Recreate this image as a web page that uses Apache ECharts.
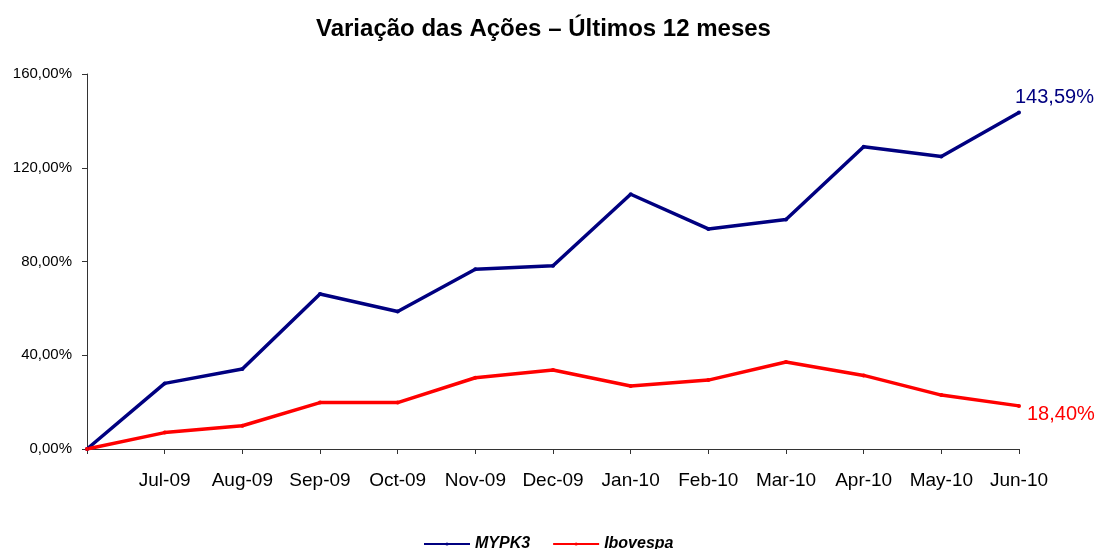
<!DOCTYPE html>
<html>
<head>
<meta charset="utf-8">
<script src="https://cdn.jsdelivr.net/npm/echarts@6/dist/echarts.min.js"></script>
<style>
  html, body { margin: 0; padding: 0; background: #fff; }
  #chart { width: 1102px; height: 549px; }
</style>
</head>
<body>
<div id="chart"></div>
<script>
// dados (variação acumulada em %)
const categories = ['', 'Jul-09', 'Aug-09', 'Sep-09', 'Oct-09', 'Nov-09', 'Dec-09',
  'Jan-10', 'Feb-10', 'Mar-10', 'Apr-10', 'May-10', 'Jun-10']
const mypk3 = [0, 28.0, 34.1, 66.1, 58.7, 76.7, 78.2, 108.7, 93.9, 97.9, 129.0, 124.8, 143.59]
const ibovespa = [0, 7.0, 9.9, 19.8, 19.8, 30.4, 33.7, 26.9, 29.4, 37.1, 31.4, 23.0, 18.40]
const yTicks = [0, 40, 80, 120, 160]

const FONT = 'Arial, "Liberation Sans", sans-serif'

function fmtPct(v) {
  return v.toFixed(2).replace('.', ',') + '%'
}

// rótulo só no último ponto
function lastLabel(arr, color, opts) {
  return arr.map((v, i) => {
    if (i !== arr.length - 1) return v
    return {
      value: v,
      label: Object.assign({
        show: true,
        color: color,
        fontSize: 20,
        fontFamily: FONT,
        formatter: p => fmtPct(p.value)
      }, opts)
    }
  })
}

const chart = echarts.init(document.getElementById('chart'))

const option = {
  backgroundColor: '#fff',
  animation: false,
  title: {
    text: 'Variação das Ações – Últimos 12 meses',
    left: 316,
    top: 17,
    padding: 0,
    textStyle: {
      fontFamily: FONT,
      fontSize: 24,
      fontWeight: 'bold',
      color: '#000'
    }
  },
  legend: {
    left: 418,
    top: 531,
    itemWidth: 46,
    itemHeight: 4,
    itemGap: 22,
    textStyle: {
      fontFamily: FONT,
      fontSize: 16,
      fontStyle: 'italic',
      fontWeight: 'bold',
      color: '#000'
    },
    data: ['MYPK3', 'Ibovespa']
  },
  grid: {
    left: 87,
    right: 83,
    top: 74,
    bottom: 100
  },
  xAxis: {
    type: 'category',
    boundaryGap: false,
    data: categories,
    axisLine: { lineStyle: { color: '#333', width: 1 } },
    axisTick: { show: true, length: 5, lineStyle: { color: '#333' } },
    axisLabel: {
      interval: 0,
      margin: 22,
      fontFamily: FONT,
      fontSize: 19,
      color: '#000'
    },
    splitLine: { show: false }
  },
  yAxis: {
    type: 'value',
    min: yTicks[0],
    max: yTicks[yTicks.length - 1],
    interval: 40,
    axisLine: { show: true, lineStyle: { color: '#333', width: 1 } },
    axisTick: { show: true, length: 5, lineStyle: { color: '#333' } },
    axisLabel: {
      margin: 15,
      fontFamily: FONT,
      fontSize: 15,
      color: '#000',
      formatter: v => fmtPct(v)
    },
    splitLine: { show: false }
  },
  series: [
    {
      name: 'MYPK3',
      type: 'line',
      data: lastLabel(mypk3, '#000080', { position: 'top', align: 'left', distance: 3, offset: [-4, 0] }),
      symbol: 'circle',
      symbolSize: 4,
      lineStyle: { color: '#000080', width: 3.5 },
      itemStyle: { color: '#000080' }
    },
    {
      name: 'Ibovespa',
      type: 'line',
      data: lastLabel(ibovespa, '#ff0000', { position: 'right', distance: 6, offset: [0, 9] }),
      symbol: 'circle',
      symbolSize: 4,
      lineStyle: { color: '#ff0000', width: 3.5 },
      itemStyle: { color: '#ff0000' }
    }
  ]
}

chart.setOption(option)
window.addEventListener('resize', () => chart.resize())
</script>
</body>
</html>
